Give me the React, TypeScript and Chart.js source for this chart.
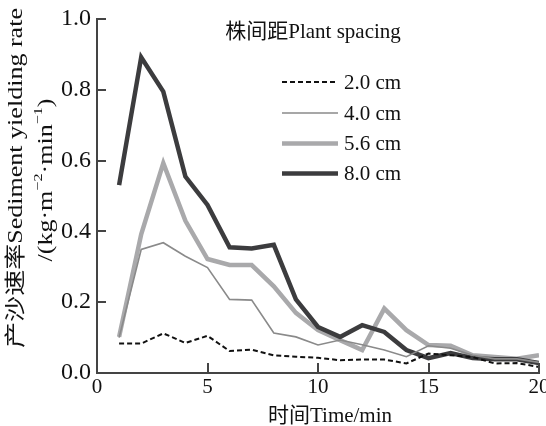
import React, { useEffect, useRef } from "react";
import { Chart, registerables } from "chart.js";

Chart.register(...registerables);

const timeMin = [1, 2, 3, 4, 5, 6, 7, 8, 9, 10, 11, 12, 13, 14, 15, 16, 17, 18, 19, 20];
const spacing20 = [0.083, 0.083, 0.112, 0.085, 0.105, 0.062, 0.066, 0.05, 0.046, 0.043, 0.036, 0.038, 0.038, 0.027, 0.055, 0.05, 0.045, 0.027, 0.028, 0.017];
const spacing40 = [0.1, 0.349, 0.368, 0.33, 0.298, 0.208, 0.206, 0.113, 0.102, 0.079, 0.093, 0.08, 0.065, 0.046, 0.077, 0.07, 0.05, 0.04, 0.04, 0.03];
const spacing56 = [0.102, 0.392, 0.593, 0.43, 0.322, 0.305, 0.305, 0.245, 0.17, 0.121, 0.093, 0.065, 0.182, 0.121, 0.079, 0.077, 0.05, 0.045, 0.04, 0.05];
const spacing80 = [0.531, 0.892, 0.795, 0.555, 0.475, 0.355, 0.352, 0.362, 0.208, 0.13, 0.102, 0.135, 0.116, 0.065, 0.042, 0.056, 0.042, 0.039, 0.039, 0.028];
const seriesLabels = ["2.0 cm", "4.0 cm", "5.6 cm", "8.0 cm"];
const legendTitle = "株间距Plant spacing";
const xTitle = "时间Time/min";
const yTitle1 = "产沙速率Sediment yielding rate";
const yTitle2Parts: [string, boolean][] = [["/(kg·m", false], ["−2", true], ["·min", false], ["−1", true], [")", false]];

const FONT = '"Liberation Serif", "Noto Sans CJK SC", serif';
const AXIS = "#444";

const styles = [
  { color: "#111111", width: 2, dash: [5, 3] },
  { color: "#8a8a8a", width: 1.6, dash: [] as number[] },
  { color: "#a9a9ab", width: 4.5, dash: [] as number[] },
  { color: "#3c3c3e", width: 4.5, dash: [] as number[] },
];

const seriesValues = [spacing20, spacing40, spacing56, spacing80];

const decorPlugin = {
  id: "decor",
  afterDraw(chart: any) {
    const { ctx, chartArea, scales } = chart;
    const xs = scales.x;
    const ys = scales.y;
    ctx.save();
    // inward ticks
    ctx.strokeStyle = AXIS;
    ctx.lineWidth = 2;
    [0.2, 0.4, 0.6, 0.8, 1.0].forEach((v) => {
      const py = Math.round(ys.getPixelForValue(v));
      ctx.beginPath();
      ctx.moveTo(chartArea.left, py);
      ctx.lineTo(chartArea.left + 9, py);
      ctx.stroke();
    });
    [5, 10, 15, 20].forEach((v) => {
      const px = Math.round(xs.getPixelForValue(v));
      ctx.beginPath();
      ctx.moveTo(px, chartArea.bottom);
      ctx.lineTo(px, chartArea.bottom - 10);
      ctx.stroke();
    });

    // x title
    ctx.fillStyle = "#111";
    ctx.font = `21px ${FONT}`;
    ctx.textAlign = "center";
    ctx.textBaseline = "middle";
    ctx.fillText(xTitle, 330, 416);

    // y title (two lines, rotated)
    const sx = 1.24;
    ctx.save();
    ctx.translate(16, 178);
    ctx.rotate(-Math.PI / 2);
    ctx.scale(sx, 1);
    ctx.font = `21px ${FONT}`;
    ctx.textAlign = "center";
    ctx.fillText(yTitle1, 0, 0);
    ctx.restore();

    ctx.save();
    ctx.translate(46, 180);
    ctx.rotate(-Math.PI / 2);
    ctx.scale(sx, 1);
    ctx.textAlign = "left";
    let total = 0;
    yTitle2Parts.forEach(([t, sup]) => {
      ctx.font = sup ? `13px ${FONT}` : `21px ${FONT}`;
      total += ctx.measureText(t).width;
    });
    let cx = -total / 2;
    yTitle2Parts.forEach(([t, sup]) => {
      ctx.font = sup ? `13px ${FONT}` : `21px ${FONT}`;
      ctx.fillText(t, cx, sup ? -7 : 0);
      cx += ctx.measureText(t).width;
    });
    ctx.restore();

    // legend
    ctx.font = `21px ${FONT}`;
    ctx.textAlign = "center";
    ctx.fillStyle = "#111";
    ctx.fillText(legendTitle, 313, 32);
    const rowY = [82, 113, 143.5, 173.5];
    ctx.textAlign = "left";
    seriesLabels.forEach((lab, i) => {
      const s = styles[i];
      ctx.save();
      ctx.strokeStyle = s.color;
      ctx.lineWidth = s.width;
      ctx.setLineDash(s.dash);
      ctx.beginPath();
      ctx.moveTo(282, rowY[i]);
      ctx.lineTo(338, rowY[i]);
      ctx.stroke();
      ctx.restore();
      ctx.fillStyle = "#111";
      ctx.fillText(lab, 344, rowY[i] + 1);
    });
    ctx.restore();
  },
};

export default function App() {
  const ref = useRef<HTMLCanvasElement>(null);
  useEffect(() => {
    if (!ref.current) return;
    const order = [0, 1, 3, 2];
    const chart = new Chart(ref.current, {
      type: "line",
      data: {
        datasets: seriesValues.map((vals, i) => ({
          label: seriesLabels[i],
          data: vals.map((v, k) => ({ x: timeMin[k], y: v })),
          borderColor: styles[i].color,
          borderWidth: styles[i].width,
          borderDash: styles[i].dash,
          pointRadius: 0,
          tension: 0,
          fill: false,
          order: order[i],
          borderJoinStyle: "miter" as const,
        })),
      },
      options: {
        responsive: false,
        animation: false,
        events: [],
        layout: { padding: { left: 0, top: 19, right: 7, bottom: 0 } },
        plugins: { legend: { display: false }, tooltip: { enabled: false } },
        scales: {
          x: {
            type: "linear",
            min: 0,
            max: 20,
            ticks: {
              stepSize: 5,
              color: "#111",
              padding: 2,
              maxRotation: 0,
              font: { family: FONT, size: 21 },
            },
            grid: { drawOnChartArea: false, drawTicks: false },
            border: { display: true, color: AXIS, width: 2 },
            afterFit: (s: any) => {
              s.height = 53;
              s.paddingRight = 0;
              s.paddingLeft = 0;
            },
          },
          y: {
            min: 0,
            max: 1,
            ticks: {
              stepSize: 0.2,
              color: "#111",
              padding: 6,
              font: { family: FONT, size: 24 },
              callback: (v: any) => Number(v).toFixed(1),
            },
            grid: { drawOnChartArea: false, drawTicks: false },
            border: { display: true, color: AXIS, width: 2 },
            afterFit: (s: any) => {
              s.width = 97;
              s.paddingTop = 0;
              s.paddingBottom = 0;
            },
          },
        },
      },
      plugins: [decorPlugin],
    });
    return () => chart.destroy();
  }, []);
  return (
    <div style={{ position: "absolute", left: 0, top: 0, width: 546, height: 426, background: "#fff" }}>
      <canvas ref={ref} width={546} height={426} style={{ width: 546, height: 426 }} />
    </div>
  );
}
